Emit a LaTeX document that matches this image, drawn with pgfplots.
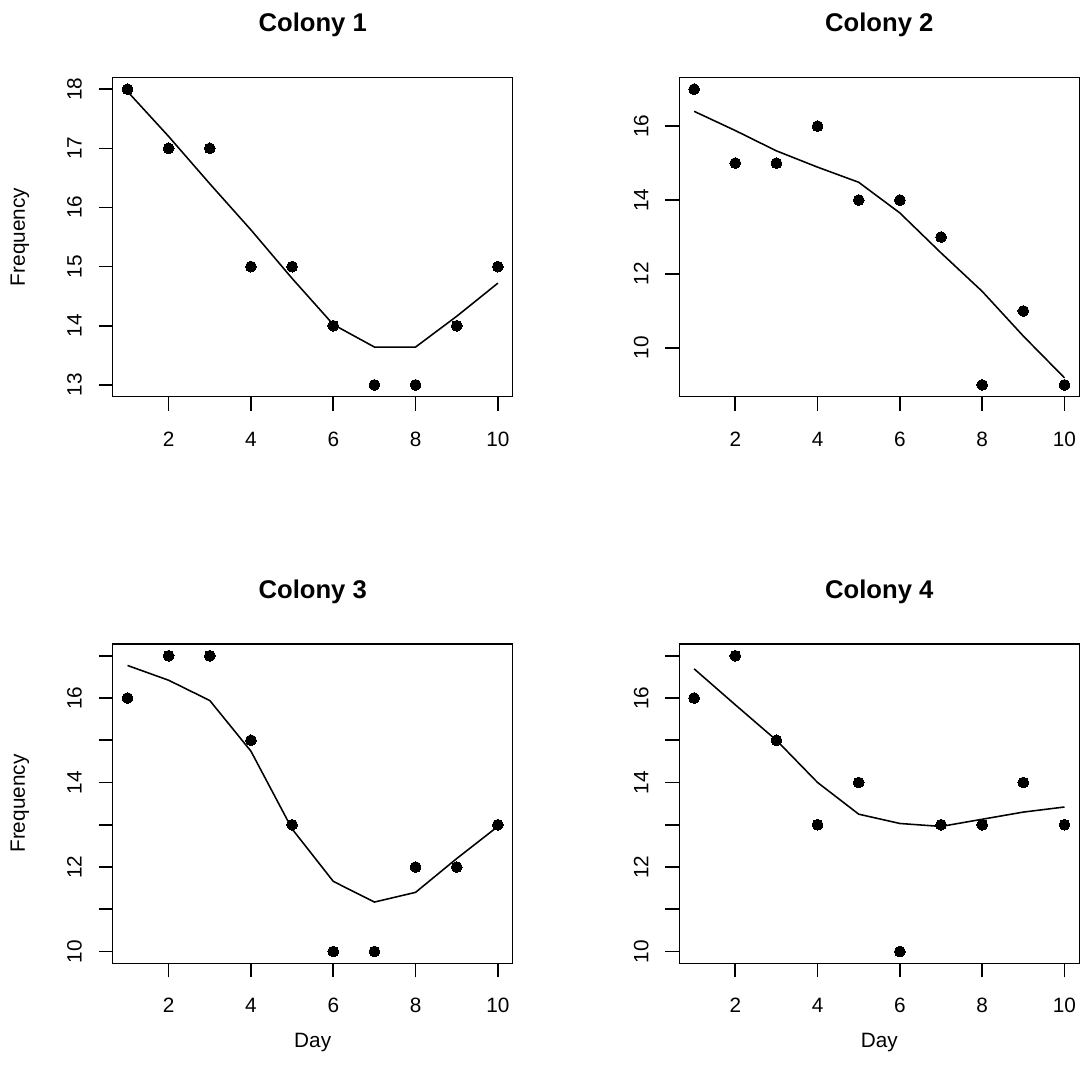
\documentclass[border=0pt]{standalone}
\usepackage{fontspec}
\setmainfont{Liberation Sans}
\usepackage{pgfplots}
\pgfplotsset{compat=1.18}
\pgfplotsset{
  rpanel/.style={
    scale only axis,
    width=192pt, height=153.312pt,
    xmin=0.64, xmax=10.36,
    axis line style={line width=0.75pt},
    every tick/.style={black, line width=0.75pt},
    tick align=outside,
    major tick length=6.72pt,
    xtick pos=left, ytick pos=left,
    xtick={2,4,6,8,10},
    /pgf/number format/assume math mode=true,
    ticklabel style={font=\fontsize{9.96}{12}\selectfont, inner sep=0pt, outer sep=0pt},
    xticklabel style={anchor=base, yshift=-16.94pt},
    yticklabel style={xshift=-8.16pt, rotate=90, anchor=base},
    title style={at={(axis description cs:0.5,1.14277)}, anchor=base, yshift=-6pt, font=\fontsize{12.3}{14}\selectfont\bfseries, inner sep=0pt},
    ylabel style={at={(axis description cs:-0.21925,0.5)}, anchor=base, font=\fontsize{9.96}{12}\selectfont, inner sep=0pt},
    xlabel style={at={(axis description cs:0.5,-0.262)}, anchor=base, font=\fontsize{9.96}{12}\selectfont, inner sep=0pt},
  },
  pts/.style={only marks, mark=*, mark size=2.6pt, black, mark options={fill=black, draw=black, line width=0pt}},
  fit/.style={sharp plot, no marks, black, line width=0.75pt},
}
\begin{document}
\begin{tikzpicture}
\path[use as bounding box] (0,0) rectangle (518.4pt,-515.04pt);
% Colony 1
\begin{axis}[rpanel, at={(54.096pt,-190.416pt)}, anchor=south west,
  ymin=12.8, ymax=18.2, ytick={13,14,15,16,17,18},
  title={Colony 1}, ylabel={Frequency}]
\addplot[pts] coordinates {(1,18)(2,17)(3,17)(4,15)(5,15)(6,14)(7,13)(8,13)(9,14)(10,15)};
\addplot[fit] coordinates {(1,17.96)(2,17.2)(3,16.4)(4,15.62)(5,14.8)(6,14.02)(7,13.64)(8,13.64)(9,14.16)(10,14.72)};
\end{axis}
% Colony 2
\begin{axis}[rpanel, at={(326.064pt,-190.416pt)}, anchor=south west,
  ymin=8.68, ymax=17.32, ytick={10,12,14,16},
  title={Colony 2}]
\addplot[pts] coordinates {(1,17)(2,15)(3,15)(4,16)(5,14)(6,14)(7,13)(8,9)(9,11)(10,9)};
\addplot[fit] coordinates {(1,16.40)(2,15.88)(3,15.33)(4,14.89)(5,14.48)(6,13.65)(7,12.57)(8,11.53)(9,10.32)(10,9.19)};
\end{axis}
% Colony 3
\begin{axis}[rpanel, at={(54.096pt,-462.384pt)}, anchor=south west,
  ymin=9.72, ymax=17.28, ytick={10,11,12,13,14,15,16,17}, yticklabels={10,,12,,14,,16,},
  title={Colony 3}, ylabel={Frequency}, xlabel={Day}]
\addplot[pts] coordinates {(1,16)(2,17)(3,17)(4,15)(5,13)(6,10)(7,10)(8,12)(9,12)(10,13)};
\addplot[fit] coordinates {(1,16.77)(2,16.42)(3,15.94)(4,14.74)(5,12.9)(6,11.66)(7,11.17)(8,11.40)(9,12.2)(10,12.96)};
\end{axis}
% Colony 4
\begin{axis}[rpanel, at={(326.064pt,-462.384pt)}, anchor=south west,
  ymin=9.72, ymax=17.28, ytick={10,11,12,13,14,15,16,17}, yticklabels={10,,12,,14,,16,},
  title={Colony 4}, xlabel={Day}]
\addplot[pts] coordinates {(1,16)(2,17)(3,15)(4,13)(5,14)(6,10)(7,13)(8,13)(9,14)(10,13)};
\addplot[fit] coordinates {(1,16.69)(2,15.84)(3,15.0)(4,14.0)(5,13.25)(6,13.03)(7,12.96)(8,13.13)(9,13.30)(10,13.42)};
\end{axis}
\end{tikzpicture}
\end{document}
